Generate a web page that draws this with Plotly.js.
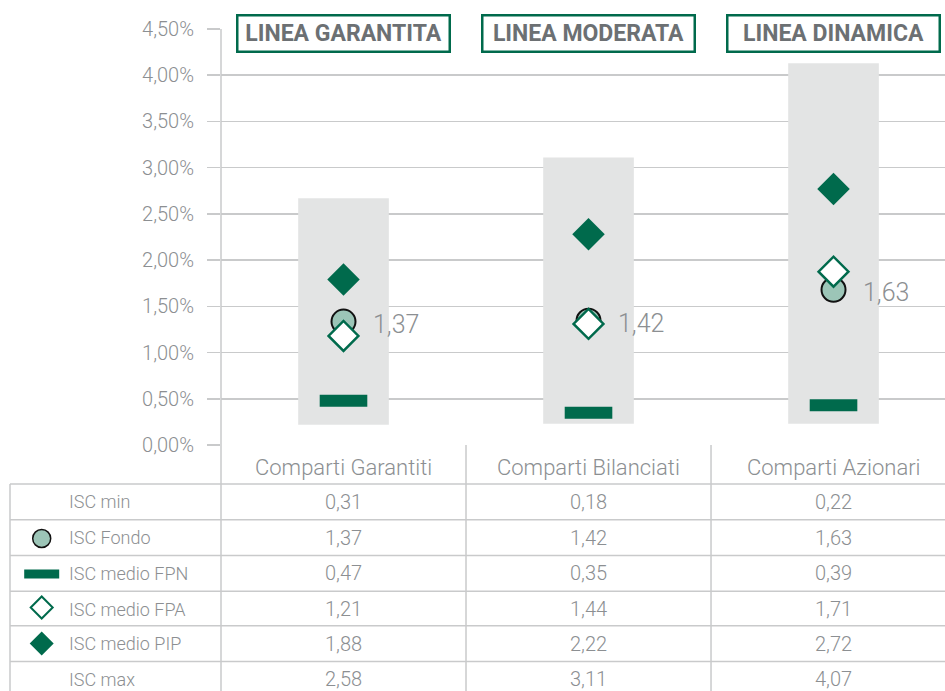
<!DOCTYPE html>
<html>
<head>
<meta charset="utf-8">
<script src="https://cdn.plot.ly/plotly-3.0.1.min.js"></script>
<style>
  html, body { margin: 0; padding: 0; background: #ffffff; overflow: hidden; }
  #chart { width: 945px; height: 691px; }
</style>
</head>
<body>
<div id="chart"></div>
<script>
// ---------- data ----------
const categories = ['Comparti Garantiti', 'Comparti Bilanciati', 'Comparti Azionari'];
const lineLabels = ['LINEA GARANTITA', 'LINEA MODERATA', 'LINEA DINAMICA'];
const rowLabels = ['ISC min', 'ISC Fondo', 'ISC medio FPN', 'ISC medio FPA', 'ISC medio PIP', 'ISC max'];

// table values (as printed)
const iscMin    = [0.31, 0.18, 0.22];
const iscFondo  = [1.37, 1.42, 1.63];
const iscFPN    = [0.47, 0.35, 0.39];
const iscFPA    = [1.21, 1.44, 1.71];
const iscPIP    = [1.88, 2.22, 2.72];
const iscMax    = [2.58, 3.11, 4.07];

// positions of the marks as drawn in the chart
const rangeLow   = [0.22, 0.23, 0.23];
const rangeHigh  = [2.67, 3.11, 4.13];
const fondoMark  = [1.335, 1.345, 1.68];
const fpnMark    = [0.48, 0.35, 0.43];
const fpaMark    = [1.18, 1.31, 1.875];
const pipMark    = [1.79, 2.28, 2.77];

// ---------- styling ----------
const GREEN = '#006a4c';
const GRID = '#c9cacb';
const TXT = '#8c8f92';
const FONT = 'Roboto, "DejaVu Sans", sans-serif';
const LIGHT = 300;
const W = 945, H = 691;
const M = {l: 221, r: 0, t: 29, b: 246};
const plotH = H - M.t - M.b, plotW = W - M.l - M.r;
const xRange = [-0.5, 2.455];
const xp = px => (px - M.l) / plotW;
const yp = py => (H - M.b - py) / plotH;
const cp = c => (c - xRange[0]) / (xRange[1] - xRange[0]);
const fmt = v => v.toFixed(2).replace('.', ',');

const traces = [
  {
    type: 'bar', x: categories, base: rangeLow,
    y: rangeHigh.map((h, i) => h - rangeLow[i]),
    width: 0.37, marker: {color: '#e3e4e4', line: {width: 0}},
    hoverinfo: 'skip', name: 'range'
  },
  {
    type: 'scatter', mode: 'markers', x: categories, y: fpnMark, name: 'ISC medio FPN',
    marker: {symbol: 'line-ew', size: 34, color: GREEN, line: {color: GREEN, width: 12}}
  },
  {
    type: 'scatter', mode: 'markers', x: categories, y: pipMark, name: 'ISC medio PIP',
    marker: {symbol: 'diamond', size: 25, color: GREEN, line: {width: 0}}
  },
  {
    type: 'scatter', mode: 'markers', x: categories, y: fondoMark, name: 'ISC Fondo',
    marker: {symbol: 'circle', size: 24, color: '#9cc5b7', line: {color: '#111111', width: 2}}
  },
  {
    type: 'scatter', mode: 'markers', x: categories, y: fpaMark, name: 'ISC medio FPA',
    marker: {symbol: 'diamond', size: 23, color: '#ffffff', line: {color: GREEN, width: 2.5}}
  }
];

const shapes = [];
const annotations = [];
const lineStyle = {color: GRID, width: 1.5};

// vertical lines (axis + column separators) extending into the table
shapes.push({type: 'line', xref: 'paper', yref: 'paper', x0: 0, x1: 0, y0: 1, y1: yp(H + 5), line: lineStyle, layer: 'above'});
[0.5, 1.5].forEach(c => shapes.push({type: 'line', xref: 'paper', yref: 'paper', x0: cp(c), x1: cp(c), y0: 0, y1: yp(H + 5), line: lineStyle}));
// table left border
shapes.push({type: 'line', xref: 'paper', yref: 'paper', x0: xp(10), x1: xp(10), y0: yp(484), y1: yp(H + 5), line: lineStyle});
// table row lines
const rowTops = [484, 519.7, 555.5, 591.2, 625.8, 661.5];
rowTops.forEach(r => shapes.push({type: 'line', xref: 'paper', yref: 'paper', x0: xp(10), x1: 1, y0: yp(r), y1: yp(r), line: lineStyle}));

// category headers
categories.forEach((c, i) => annotations.push({
  xref: 'x', yref: 'paper', x: c, y: yp(467), text: c, showarrow: false,
  xanchor: 'center', yanchor: 'middle', font: {family: FONT, size: 22, color: TXT, weight: LIGHT}
}));

// table values
const rowsData = [iscMin, iscFondo, iscFPN, iscFPA, iscPIP, iscMax];
rowsData.forEach((arr, r) => {
  const cy = rowTops[r] + 17.8;
  annotations.push({
    xref: 'paper', yref: 'paper', x: xp(67), y: yp(cy), text: rowLabels[r], showarrow: false,
    xanchor: 'left', yanchor: 'middle', font: {family: FONT, size: 18, color: TXT, weight: LIGHT}
  });
  arr.forEach((v, i) => annotations.push({
    xref: 'x', yref: 'paper', x: categories[i], y: yp(cy), text: fmt(v), showarrow: false,
    xanchor: 'center', yanchor: 'middle', font: {family: FONT, size: 20, color: TXT, weight: LIGHT}
  }));
});

// data labels next to the ISC Fondo circles
iscFondo.forEach((v, i) => annotations.push({
  xref: 'x', yref: 'y', x: categories[i], y: fondoMark[i], text: fmt(v), showarrow: false,
  xanchor: 'left', yanchor: 'middle', xshift: 27, yshift: -3,
  font: {family: FONT, size: 25, color: TXT, weight: LIGHT}
}));

// line boxes at the top
lineLabels.forEach((t, i) => annotations.push({
  xref: 'x', yref: 'paper', x: categories[i], y: yp(33.5), text: '<b>' + t + '</b>', showarrow: false,
  xanchor: 'center', yanchor: 'middle', width: 206, height: 30, borderpad: 2,
  bordercolor: GREEN, borderwidth: 2.5, bgcolor: '#ffffff',
  font: {family: FONT, size: 23, color: '#6c7073'}
}));

// legend icons in the table
const lx = xp(41.7);
shapes.push({type: 'circle', xref: 'paper', yref: 'paper', xsizemode: 'pixel', ysizemode: 'pixel',
  xanchor: lx, yanchor: yp(538.5), x0: -9, x1: 9, y0: -9, y1: 9,
  fillcolor: '#9cc5b7', line: {color: '#111111', width: 1.5}});
shapes.push({type: 'rect', xref: 'paper', yref: 'paper', xsizemode: 'pixel', ysizemode: 'pixel',
  xanchor: lx, yanchor: yp(574), x0: -17.5, x1: 17.5, y0: -4.5, y1: 4.5,
  fillcolor: GREEN, line: {width: 0}});
shapes.push({type: 'path', xref: 'paper', yref: 'paper', xsizemode: 'pixel', ysizemode: 'pixel',
  xanchor: lx, yanchor: yp(607.5), path: 'M -11 0 L 0 11 L 11 0 L 0 -11 Z',
  fillcolor: '#ffffff', line: {color: GREEN, width: 2}});
shapes.push({type: 'path', xref: 'paper', yref: 'paper', xsizemode: 'pixel', ysizemode: 'pixel',
  xanchor: lx, yanchor: yp(643.5), path: 'M -12 0 L 0 12 L 12 0 L 0 -12 Z',
  fillcolor: GREEN, line: {width: 0}});

const layout = {
  width: W, height: H,
  margin: {l: M.l, r: M.r, t: M.t, b: M.b, pad: 0},
  paper_bgcolor: '#ffffff', plot_bgcolor: '#ffffff',
  separators: ',.',
  showlegend: false,
  font: {family: FONT, color: TXT},
  xaxis: {
    type: 'category', range: xRange, showgrid: false, zeroline: false,
    showticklabels: false, ticks: '', showline: false, fixedrange: true
  },
  yaxis: {
    range: [0, 4.5], tick0: 0, dtick: 0.5, tickformat: '.2f', ticksuffix: '%',
    showgrid: true, gridcolor: GRID, gridwidth: 1.5, zeroline: false,
    ticks: 'outside', ticklen: 13, tickcolor: GRID, tickwidth: 1.5,
    showline: false, ticklabelstandoff: 9,
    tickfont: {family: FONT, size: 20, color: TXT, weight: LIGHT}, fixedrange: true
  },
  shapes: shapes,
  annotations: annotations
};

Plotly.newPlot('chart', traces, layout, {displayModeBar: false, staticPlot: true});
</script>
</body>
</html>
